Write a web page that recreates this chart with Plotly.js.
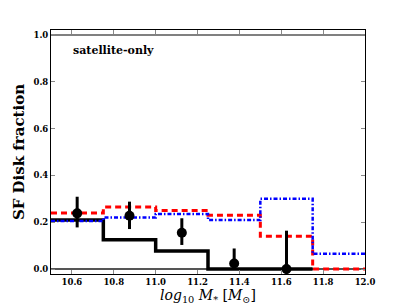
<!DOCTYPE html>
<html>
<head>
<meta charset="utf-8">
<script src="https://cdn.plot.ly/plotly-3.0.1.min.js"></script>
<style>html,body{margin:0;padding:0;background:#fff;}#chart{width:407px;height:305px;}</style>
</head>
<body>
<div id="chart"></div>
<script>
// bin edges (log10 stellar mass)
var binEdges = [10.5, 10.75, 11.0, 11.25, 11.5, 11.75, 12.0];
// black solid histogram (bins up to 11.75)
var blackEdges = [10.5, 10.75, 11.0, 11.25, 11.5, 11.75];
var blackVals = [0.21, 0.125, 0.077, 0.0, 0.0];
// red dashed histogram
var redVals = [0.24, 0.265, 0.25, 0.23, 0.14, 0.0];
// blue dash-dot histogram
var blueVals = [0.205, 0.22, 0.235, 0.21, 0.30, 0.065];
// data points with error bars
var ptX = [10.625, 10.875, 11.125, 11.375, 11.625];
var ptY = [0.238, 0.228, 0.155, 0.024, 0.0];
var ptErrUp = [0.071, 0.06, 0.062, 0.064, 0.164];
var ptErrDown = [0.06, 0.057, 0.052, 0.024, 0.0];
var xTicks = [10.6, 10.8, 11.0, 11.2, 11.4, 11.6, 11.8, 12.0];
var yTicks = [0.0, 0.2, 0.4, 0.6, 0.8, 1.0];

function stepY(v){ return v.concat([v[v.length-1]]); }

var serif = '"DejaVu Serif", serif';

var traces = [
  {x: blackEdges, y: stepY(blackVals), mode: 'lines', line: {shape: 'hv', color: '#000', width: 3.5}, hoverinfo: 'skip'},
  {x: binEdges, y: stepY(redVals), mode: 'lines', line: {shape: 'hv', color: '#ff0000', width: 3, dash: '6px,4px'}, hoverinfo: 'skip'},
  {x: binEdges, y: stepY(blueVals), mode: 'lines', line: {shape: 'hv', color: '#0000ff', width: 2.5, dash: '4px,2px,1.5px,2px'}, hoverinfo: 'skip'},
  {x: ptX, y: ptY, mode: 'markers', marker: {color: '#000', size: 10},
   error_y: {type: 'data', symmetric: false, array: ptErrUp, arrayminus: ptErrDown, color: '#000', thickness: 3, width: 0}}
];

var layout = {
  width: 407, height: 305,
  margin: {l: 51, r: 42, t: 30, b: 31},
  paper_bgcolor: '#fff', plot_bgcolor: '#fff',
  showlegend: false,
  xaxis: {
    range: [10.5, 12.0], tickvals: xTicks, ticktext: xTicks.map(function(v){return v.toFixed(1);}),
    ticks: 'inside', ticklen: 4, tickcolor: '#888', mirror: 'ticks', showline: true, linecolor: '#000', linewidth: 1,
    showgrid: false, zeroline: false,
    tickfont: {family: serif, size: 8.5, color: '#000', weight: 'bold'},
    title: {text: '<i>log</i><sub>10</sub> <i>M</i><sub>*</sub> [<i>M</i><sub>⊙</sub>]', font: {family: serif, size: 14, color: '#000'}, standoff: 5}
  },
  yaxis: {
    range: [-0.021, 1.021], tickvals: yTicks, ticktext: yTicks.map(function(v){return v.toFixed(1);}),
    ticks: 'inside', ticklen: 4, tickcolor: '#888', mirror: 'ticks', showline: true, linecolor: '#000', linewidth: 1,
    showgrid: false, zeroline: false,
    tickfont: {family: serif, size: 8.5, color: '#000', weight: 'bold'},
    title: {text: 'SF Disk fraction', font: {family: serif, size: 15, color: '#000', weight: 'bold'}, standoff: 5}
  },
  shapes: [
    {type: 'line', xref: 'paper', x0: 0, x1: 1, yref: 'y', y0: 1, y1: 1, line: {color: '#808080', width: 2}, layer: 'below'},
    {type: 'line', xref: 'paper', x0: 0, x1: 1, yref: 'y', y0: 0, y1: 0, line: {color: '#555', width: 2}, layer: 'below'}
  ],
  annotations: [
    {text: 'satellite-only', xref: 'paper', yref: 'paper', x: 0.064, y: 0.915, xanchor: 'left', yanchor: 'middle', showarrow: false,
     font: {family: serif, size: 11, color: '#000', weight: 'bold'}}
  ]
};

Plotly.newPlot('chart', traces, layout, {displayModeBar: false, staticPlot: true});
</script>
</body>
</html>
